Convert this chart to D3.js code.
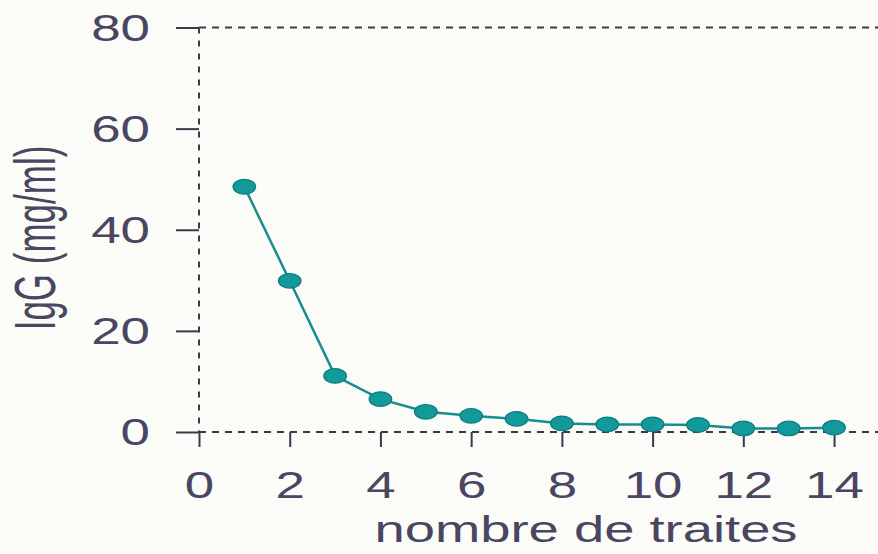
<!DOCTYPE html>
<html>
<head>
<meta charset="utf-8">
<script src="https://cdn.jsdelivr.net/npm/d3@7"></script>
<style>
  html, body { margin: 0; padding: 0; background: #fbfbf8; }
  svg { display: block; }
  text { font-family: "Liberation Sans", Arial, Helvetica, sans-serif; fill: #4a4560; }
</style>
</head>
<body>
<svg id="chart" width="878" height="554"></svg>
<script>
// IgG concentration per milking
const milkings = [1, 2, 3, 4, 5, 6, 7, 8, 9, 10, 11, 12, 13, 14];
const iggValues = [48.5, 29.9, 11.1, 6.5, 4.0, 3.2, 2.6, 1.7, 1.5, 1.5, 1.4, 0.7, 0.7, 0.85];
const xTicks = [0, 2, 4, 6, 8, 10, 12, 14];
const yTicks = [0, 20, 40, 60, 80];
const xTitle = "nombre de traites";
const yTitle = "IgG (mg/ml)";

const W = 878, H = 554;
const stretch = 1.47;          // wide-set lettering
const inkColor = "#3c3a48";
const teal = "#12999a";
const tealDark = "#0b7d80";

const svg = d3.select("#chart");
svg.append("rect").attr("width", W).attr("height", H).attr("fill", "#fbfbf8");

const x = d3.scaleLinear().domain([0, 15]).range([199, 879.4]);
const y = d3.scaleLinear().domain([0, 80]).range([432, 27.5]);

// dashed frame: left axis, top and bottom rules
const frame = svg.append("g")
  .attr("stroke", inkColor).attr("stroke-width", 2).attr("fill", "none");
frame.append("line")
  .attr("x1", x(0)).attr("x2", x(0)).attr("y1", y(80)).attr("y2", y(0))
  .attr("stroke-dasharray", "6,7");
frame.append("line")
  .attr("x1", x(0)).attr("x2", x(15)).attr("y1", y(80)).attr("y2", y(80))
  .attr("stroke-dasharray", "7,6");
frame.append("line")
  .attr("x1", x(0)).attr("x2", x(15)).attr("y1", y(0)).attr("y2", y(0))
  .attr("stroke-dasharray", "7,6");

// y axis ticks and labels
const yAxis = svg.append("g")
  .attr("transform", `translate(${x(0)},0)`)
  .call(d3.axisLeft(y).tickValues(yTicks).tickSize(23).tickFormat(d3.format("d")));
yAxis.select(".domain").remove();
yAxis.selectAll(".tick line").attr("stroke", inkColor).attr("stroke-width", 2);
yAxis.selectAll(".tick text")
  .attr("x", null).attr("dy", "0.36em")
  .attr("fill", "#4a4560")
  .style("font-size", "36px")
  .attr("text-anchor", "end")
  .attr("transform", `translate(-49,0) scale(${stretch},1)`);

// x axis ticks and labels
const xAxis = svg.append("g")
  .attr("transform", `translate(0,${y(0)})`)
  .call(d3.axisBottom(x).tickValues(xTicks).tickSize(15).tickFormat(d3.format("d")));
xAxis.select(".domain").remove();
xAxis.selectAll(".tick line").attr("stroke", inkColor).attr("stroke-width", 2);
xAxis.selectAll(".tick text")
  .attr("y", null).attr("dy", null)
  .attr("fill", "#4a4560")
  .style("font-size", "36px")
  .attr("text-anchor", "middle")
  .attr("transform", `translate(0,66) scale(${stretch},1)`);

// axis titles
svg.append("text")
  .attr("transform", `translate(586,542) scale(${stretch},1)`)
  .attr("text-anchor", "middle")
  .style("font-size", "37px")
  .text(xTitle);

svg.append("text")
  .attr("transform", `translate(55,238) scale(1.62,1) rotate(-90)`)
  .attr("text-anchor", "middle")
  .style("font-size", "35px")
  .text(yTitle);

// series line
const pts = milkings.map((m, i) => [m, iggValues[i]]);
svg.append("path")
  .datum(pts)
  .attr("fill", "none")
  .attr("stroke", "#168d8e")
  .attr("stroke-width", 2.5)
  .attr("d", d3.line().x(d => x(d[0])).y(d => y(d[1])));

// markers
svg.append("g").selectAll("ellipse")
  .data(pts)
  .join("ellipse")
  .attr("cx", d => x(d[0]))
  .attr("cy", d => y(d[1]))
  .attr("rx", 11.3)
  .attr("ry", 7.3)
  .attr("fill", teal)
  .attr("stroke", tealDark)
  .attr("stroke-width", 1.2);
</script>
</body>
</html>
